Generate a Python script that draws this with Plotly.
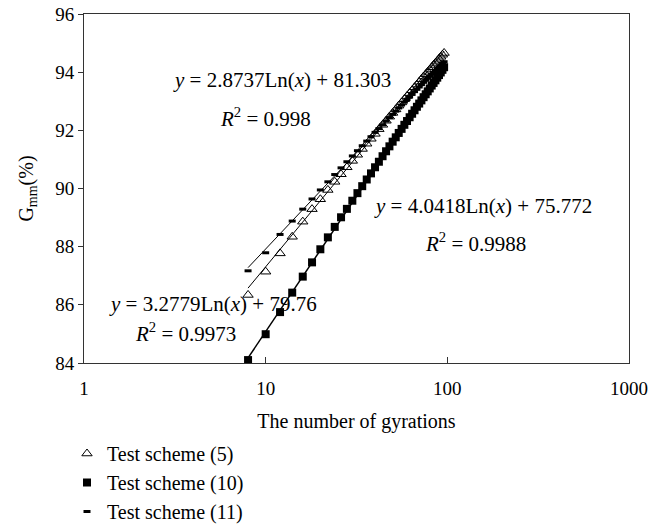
import math
import plotly.graph_objects as go

gyrations = [8, 10, 12, 14, 16, 18, 20, 22, 24, 26, 28, 30, 32, 34, 36, 38, 40, 42, 44, 46,
             48, 50, 52, 54, 56, 58, 60, 62, 64, 66, 68, 70, 72, 74, 76, 78, 80, 82, 84, 86,
             88, 90, 92, 94, 96]

scheme5 = [86.34, 87.14, 87.77, 88.34, 88.86, 89.29, 89.63, 89.95, 90.23, 90.49,
           90.73, 90.95, 91.16, 91.36, 91.54, 91.71, 91.88, 92.04, 92.19, 92.33,
           92.47, 92.60, 92.72, 92.85, 92.96, 93.07, 93.18, 93.28, 93.38, 93.48,
           93.57, 93.67, 93.76, 93.85, 93.93, 94.01, 94.09, 94.17, 94.25, 94.32,
           94.39, 94.46, 94.53, 94.60, 94.66]

scheme10 = [84.10, 84.99, 85.75, 86.42, 86.97, 87.46, 87.91, 88.32, 88.68, 89.01,
            89.30, 89.58, 89.84, 90.08, 90.31, 90.52, 90.73, 90.92, 91.11, 91.28,
            91.45, 91.61, 91.76, 91.91, 92.05, 92.19, 92.32, 92.45, 92.57, 92.69,
            92.81, 92.92, 93.03, 93.14, 93.24, 93.34, 93.44, 93.54, 93.63, 93.72,
            93.81, 93.90, 93.99, 94.08, 94.17]

scheme11 = [87.17, 87.79, 88.42, 88.88, 89.29, 89.64, 89.95, 90.23, 90.48, 90.71,
            90.92, 91.12, 91.30, 91.47, 91.63, 91.78, 91.93, 92.06, 92.19, 92.32,
            92.44, 92.55, 92.66, 92.77, 92.87, 92.97, 93.06, 93.15, 93.24, 93.33,
            93.41, 93.49, 93.57, 93.65, 93.72, 93.79, 93.86, 93.93, 94.00, 94.06,
            94.12, 94.18, 94.24, 94.30, 94.36]

# logarithmic trendline coefficients (slope, intercept) shown on the chart
trend5 = (3.2779, 79.76)
trend10 = (4.0418, 75.772)
trend11 = (2.8737, 81.303)

x_ticks = [1, 10, 100, 1000]
y_ticks = [84, 86, 88, 90, 92, 94, 96]


def trend(coef, xs):
    return [coef[0] * math.log(v) + coef[1] for v in xs]


FONT = "Liberation Serif"
fig = go.Figure()

for coef, w in [(trend5, 1), (trend10, 1.5), (trend11, 1)]:
    fig.add_trace(go.Scatter(x=gyrations, y=trend(coef, gyrations), mode="lines",
                             line=dict(color="black", width=w), showlegend=False,
                             hoverinfo="skip"))

fig.add_trace(go.Scatter(x=gyrations, y=scheme5, mode="markers", name="Test scheme (5)",
                         marker=dict(symbol="triangle-up-open", size=9, color="black",
                                     line=dict(width=1, color="black"))))
fig.add_trace(go.Scatter(x=gyrations, y=scheme10, mode="markers", name="Test scheme (10)",
                         marker=dict(symbol="square", size=8, color="black")))
fig.add_trace(go.Scatter(x=gyrations, y=scheme11, mode="markers", name="Test scheme (11)",
                         marker=dict(symbol="line-ew", size=5, color="black",
                                     line=dict(width=3, color="black"))))

# page is rendered with an 8px body margin; work in page pixels and convert
OFF = 8
W, H = 665 - OFF, 525 - OFF
L, R, T, B = 84 - OFF, 629 - OFF, 14 - OFF, 363 - OFF


def px(x):
    return (x - OFF - L) / (R - L)


def py(y):
    return (B - (y - OFF)) / (B - T)


anns = [
    (171, 80, "<i>y</i> = 2.8737Ln(<i>x</i>) + 81.303"),
    (218, 118, "<i>R</i><sup>2</sup> = 0.998"),
    (372, 206, "<i>y</i> = 4.0418Ln(<i>x</i>) + 75.772"),
    (423, 242, "<i>R</i><sup>2</sup> = 0.9988"),
    (107, 304, "<i>y</i> = 3.2779Ln(<i>x</i>) + 79.76"),
    (133, 332, "<i>R</i><sup>2</sup> = 0.9973"),
]
for ax, ay, t in anns:
    fig.add_annotation(x=px(ax), y=py(ay), xref="paper", yref="paper", text=t,
                       xanchor="left", yanchor="middle",
                       showarrow=False, font=dict(family=FONT, size=21, color="black"))

fig.update_layout(
    width=W, height=H,
    margin=dict(l=L, r=W - R, t=T, b=H - B, autoexpand=False),
    paper_bgcolor="white", plot_bgcolor="white",
    font=dict(family=FONT, size=19, color="black"),
    showlegend=True,
    legend=dict(x=px(67), y=py(434), xanchor="left", yanchor="top",
                font=dict(family=FONT, size=20), itemsizing="trace",
                tracegroupgap=0, bgcolor="rgba(0,0,0,0)"),
    xaxis=dict(type="log", range=[0, 3], tickvals=x_ticks, ticktext=[str(v) for v in x_ticks],
               showgrid=False, zeroline=False, showline=True, linecolor="#333",
               linewidth=1, mirror=True, ticks="inside", ticklen=6, tickcolor="#333",
               automargin=False, ticklabelstandoff=8, ticklabeloverflow="allow",
               title=dict(text="The number of gyrations", standoff=16,
                          font=dict(family=FONT, size=20))),
    yaxis=dict(range=[84, 96], tickvals=y_ticks, showgrid=False, zeroline=False,
               showline=True, linecolor="#333", linewidth=1, mirror=True,
               ticks="outside", ticklen=5, tickcolor="#333", automargin=False,
               ticklabeloverflow="allow",
               title=dict(text="G<sub>mm</sub>(%)", standoff=16,
                          font=dict(family=FONT, size=20))),
)

fig.write_html("out.html")
